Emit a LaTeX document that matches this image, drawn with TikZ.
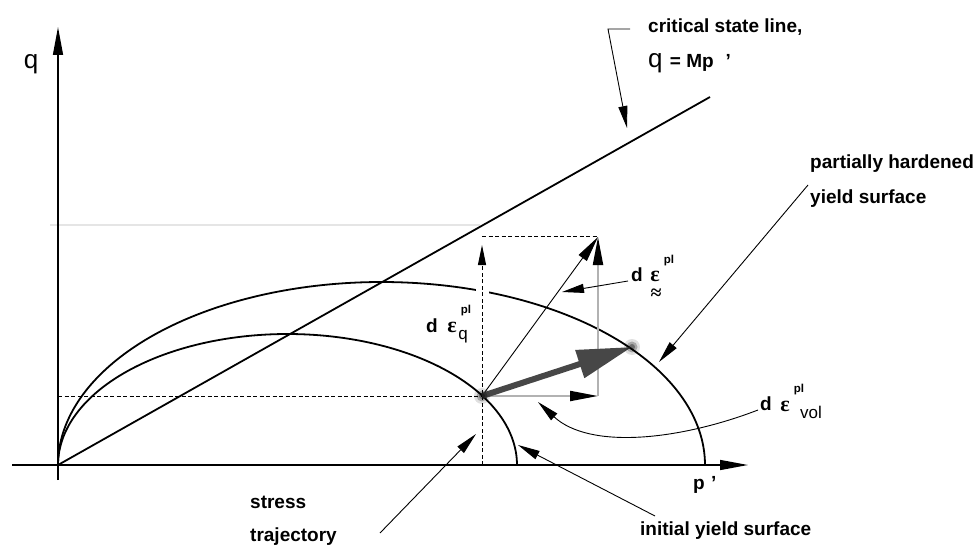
\documentclass[tikz,border=0pt]{standalone}
\usepackage{fontspec}
\setmainfont{Liberation Sans}
\newfontfamily\epsfont{Liberation Serif}
\usetikzlibrary{arrows.meta}
\begin{document}
\begin{tikzpicture}[x=1pt,y=-1pt,
  lbl/.style={font=\fontsize{19}{19}\selectfont\bfseries, inner sep=0pt},
  bigq/.style={font=\fontsize{26}{26}\selectfont, inner sep=0pt},
  epsl/.style={font=\epsfont\fontsize{22}{22}\selectfont\bfseries, inner sep=0pt},
  apl/.style={font=\epsfont\fontsize{20}{20}\selectfont\bfseries, inner sep=0pt},
  supl/.style={font=\fontsize{11.5}{11.5}\selectfont\bfseries, inner sep=0pt},
  subl/.style={font=\fontsize{17}{17}\selectfont, inner sep=0pt},
  leader/.style={line width=0.9pt, -{Triangle[length=22pt,width=9pt]}},
  axisline/.style={line width=1.4pt, -{Triangle[length=28pt,width=10pt]}},
  curveline/.style={line width=1.8pt},
  guide/.style={line width=1pt, dash pattern=on 4pt off 2.5pt},
  grayline/.style={gray!60, line width=2pt, -{Triangle[length=28pt,width=10pt,color=black]}},
]
\useasboundingbox (0,0) rectangle (979,545);

% key points
\coordinate (O) at (58,465);
\coordinate (qtop) at (58,27);
\coordinate (qbot) at (58,480);
\coordinate (pleft) at (12,465);
\coordinate (pright) at (748,465);
\coordinate (cslend) at (710,97);
\coordinate (S) at (482,396);
\coordinate (H) at (632,347);
\coordinate (C) at (598,237);
\coordinate (R) at (598,396);
\coordinate (Sx) at (482,465);
\coordinate (Sq) at (482,245);
\coordinate (Sy) at (58,396);
\coordinate (Ct) at (482,237);
\coordinate (fa) at (50,225);
\coordinate (fb) at (480,225);

% faint guide
\draw[black!10, line width=1.5pt] (fa) -- (fb);

% dashed guides
\draw[guide] (Sy) -- (S);
\draw[guide] (Ct) -- (C);

% yield surfaces
\draw[curveline] plot[domain=180:0, samples=120] ({287.5+229.5*cos(\x)}, {465-131*sin(\x)});
\draw[curveline] plot[domain=180:0, samples=160] ({381.5+323.5*cos(\x)}, {465-183*sin(\x)});
\fill[white] (476,284) rectangle (489,297);
\draw[guide, -{Triangle[length=20pt,width=8pt]}] (Sx) -- (Sq);

% critical state line
\draw[line width=1.8pt] (O) -- (cslend);

% axes
\draw[axisline] (qbot) -- (qtop);
\draw[axisline] (pleft) -- (pright);

% strain increment components
\draw[grayline] (S) -- (R);
\draw[grayline] (R) -- (C);
\draw[line width=0.9pt, -{Triangle[length=26pt,width=10pt]}] (S) -- (C);
\draw[black!72, line width=6pt, -{Triangle[length=55pt,width=28pt]}] (S) -- (H);

% fuzzy points
\foreach \p in {S,H}{
  \fill[black, opacity=0.12] (\p) circle (8pt);
  \fill[black, opacity=0.25] (\p) circle (5.5pt);
  \fill[black, opacity=0.35] (\p) circle (3pt);
}

% labels
\node[bigq, anchor=base] (qlab) at (31,69) {q};
\node[lbl, anchor=base west] (plab) at (693,489) {p\,\,'};
\node[lbl, anchor=base west] (csl) at (648,33) {critical state line,};
\node[anchor=base west, inner sep=0pt] (cslq) at (648,68) {\fontsize{26}{26}\selectfont q\ {\bfseries\fontsize{19}{19}\selectfont = Mp\hspace{12pt}'}};
\node[lbl, anchor=base west] (ph1) at (810,169) {partially hardened};
\node[lbl, anchor=base west] (ph2) at (810,204) {yield surface};
\node[lbl, anchor=base west] (st1) at (250,508) {stress};
\node[lbl, anchor=base west] (st2) at (250,541) {trajectory};
\node[lbl, anchor=base west] (iys) at (640,535) {initial yield surface};

% d eps q
\node[lbl] (dq) at (432,326) {d};
\node[epsl] (eq) at (452,327) {ε};
\node[supl] (pq) at (466,311) {pl};
\node[subl] (sq) at (463,337) {q};

% d eps tensor
\node[lbl] (dt) at (637,275) {d};
\node[epsl] (et) at (655,276) {ε};
\node[supl] (pt) at (669,261) {pl};
\node[apl] (at) at (656,294) {≈};

% d eps vol
\node[lbl] (dv) at (766,404) {d};
\node[epsl] (ev) at (785,406) {ε};
\node[supl] (pv) at (799,390) {pl};
\node[subl] (sv) at (811,412) {vol};

% leaders
\coordinate (cslA) at (630,29);
\coordinate (cslB) at (608,29);
\coordinate (cslT) at (627,128);
\draw[leader] (cslA) -- (cslB) -- (cslT);

\coordinate (phA) at (808,185);
\coordinate (phT) at (659,362);
\draw[leader] (phA) -- (phT);

\coordinate (dtA) at (628,281);
\coordinate (dtT) at (562,292);
\draw[leader] (dtA) -- (dtT);

\coordinate (dvA) at (758,410);
\coordinate (dvT) at (538,402);
\draw[leader] (dvA) .. controls (680,440) and (590,450) .. (dvT);

\coordinate (stA) at (380,533);
\coordinate (stT) at (476,434);
\draw[leader] (stA) -- (stT);

\coordinate (iyA) at (655,516);
\coordinate (iyT) at (518,445);
\draw[leader] (iyA) -- (iyT);
\end{tikzpicture}
\end{document}
